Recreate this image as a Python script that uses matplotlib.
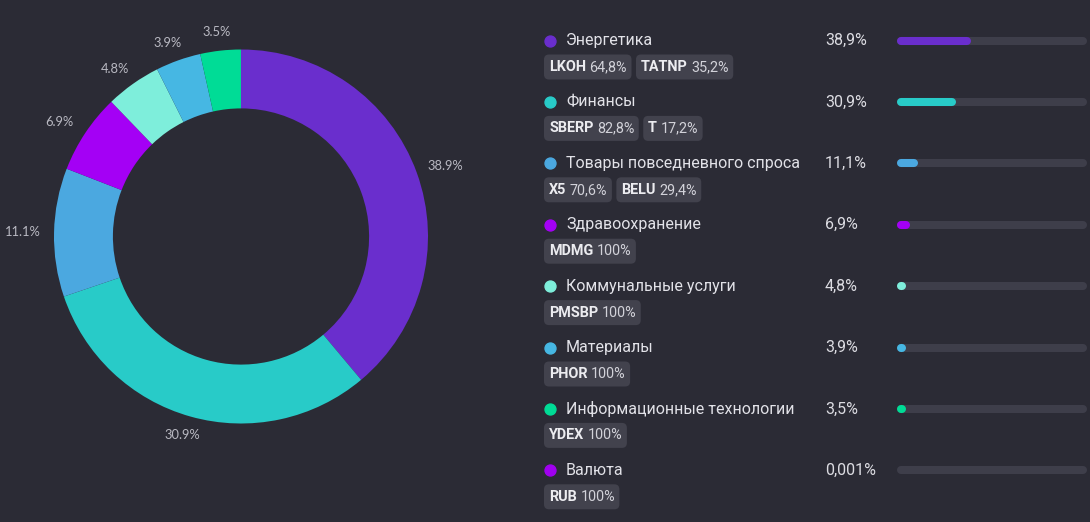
import matplotlib
matplotlib.use("Agg")
import numpy as np
import matplotlib.pyplot as plt
from matplotlib.patches import FancyBboxPatch

# данные по секторам
sectors = ["Энергетика", "Финансы", "Товары повседневного спроса", "Здравоохранение",
           "Коммунальные услуги", "Материалы", "Информационные технологии", "Валюта"]
shares = [38.9, 30.9, 11.1, 6.9, 4.8, 3.9, 3.5, 0.001]
share_labels = ["38,9%", "30,9%", "11,1%", "6,9%", "4,8%", "3,9%", "3,5%", "0,001%"]
donut_labels = ["38.9%", "30.9%", "11.1%", "6.9%", "4.8%", "3.9%", "3.5%", ""]
colors = ["#6a2ecd", "#28cbc8", "#4ba8e0", "#a400f5", "#7eeedb", "#46b7e3", "#00dc96", "#a000f0"]

tickers = [["LKOH", "TATNP"], ["SBERP", "T"], ["X5", "BELU"], ["MDMG"],
           ["PMSBP"], ["PHOR"], ["YDEX"], ["RUB"]]
ticker_shares = [["64,8%", "35,2%"], ["82,8%", "17,2%"], ["70,6%", "29,4%"], ["100%"],
                 ["100%"], ["100%"], ["100%"], ["100%"]]

BG = "#2b2b35"
plt.rcParams['font.family'] = ['Roboto', 'DejaVu Sans']

W, H = 1090, 522
fig = plt.figure(figsize=(W / 100, H / 100), dpi=100)
fig.patch.set_facecolor(BG)

# кольцевая диаграмма
cx, cy, R = 241, 236.5, 187
ax = fig.add_axes([(cx - R) / W, (H - cy - R) / H, 2 * R / W, 2 * R / H])
ax.set_facecolor(BG)

wedges, _ = ax.pie(
    shares, colors=colors, startangle=90, counterclock=False, radius=1,
    wedgeprops=dict(width=0.315, edgecolor="none", linewidth=0))

# подписи снаружи кольца
for w, lab in zip(wedges, donut_labels):
    if not lab:
        continue
    th = np.deg2rad((w.theta1 + w.theta2) / 2)
    ax.text(1.165 * np.cos(th), 1.10 * np.sin(th), lab, ha="center", va="center",
            color="#b9b9c2", fontsize=9.3, family=['Lato', 'DejaVu Sans'], clip_on=False)
ax.set_xlim(-1, 1)
ax.set_ylim(-1, 1)
ax.axis("off")

# легенда справа
ax2 = fig.add_axes([0, 0, 1, 1])
ax2.set_xlim(0, W)
ax2.set_ylim(H, 0)
ax2.axis("off")

fig.canvas.draw()
renderer = fig.canvas.get_renderer()

row0, step = 40.5, 61.4
bar_x0, bar_len, bar_lw = 897, 190, 5.8
for i, name in enumerate(sectors):
    y = row0 + step * i
    ax2.scatter([550], [y], s=62, color=colors[i], zorder=3)
    ax2.text(566, y, name, color="#e2e2e8", fontsize=11.5, va="center")
    ax2.text(825, y, share_labels[i], color="#dcdce2", fontsize=11.5, va="center")

    # полоса
    r = 4
    ax2.plot([bar_x0 + r, bar_x0 + bar_len - r], [y, y], color="#3e3e4a",
             lw=bar_lw, solid_capstyle="round", zorder=2)
    fill = shares[i] / 100 * bar_len
    if shares[i] >= 0.5:
        ax2.plot([bar_x0 + r, max(bar_x0 + r + 0.6, bar_x0 + fill - r)], [y, y],
                 color=colors[i], lw=bar_lw, solid_capstyle="round", zorder=3)

    # плашки с тикерами
    cy_chip = y + 26.5
    x = 544
    for tk, ts in zip(tickers[i], ticker_shares[i]):
        t1 = ax2.text(x + 5, cy_chip, tk, color="#ececf0", fontsize=10.4,
                      fontweight="bold", va="center", zorder=4)
        w1 = t1.get_window_extent(renderer).width
        t2 = ax2.text(x + 5 + w1 + 3.5, cy_chip, ts, color="#d2d2d9", fontsize=10.4,
                      va="center", zorder=4)
        w2 = t2.get_window_extent(renderer).width
        cw = 5 + w1 + 3.5 + w2 + 4.5
        chip = FancyBboxPatch((x, cy_chip - 12.5), cw, 25,
                              boxstyle="round,pad=0,rounding_size=5",
                              facecolor="#42424d", edgecolor="none", zorder=3)
        ax2.add_patch(chip)
        x += cw + 4.5

fig.savefig("out.png", dpi=100, facecolor=BG)
